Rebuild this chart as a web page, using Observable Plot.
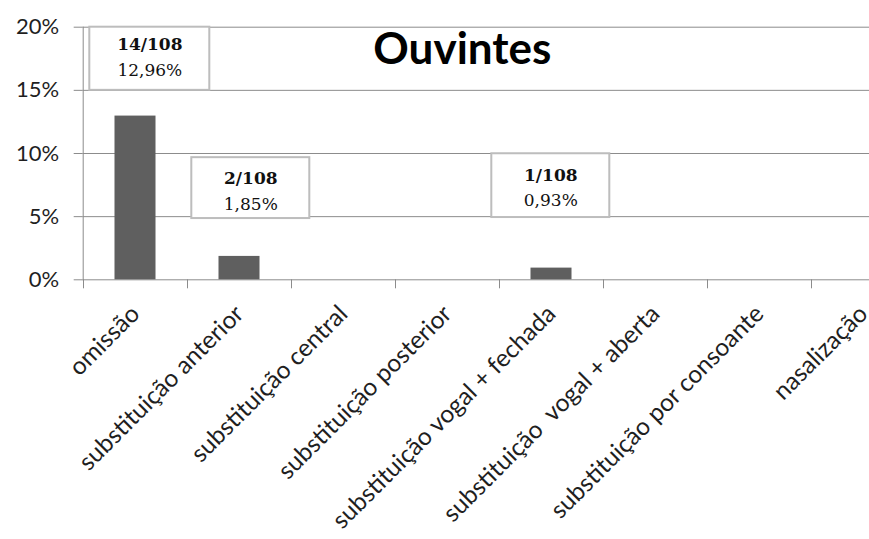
<!DOCTYPE html>
<html>
<head>
<meta charset="utf-8">
<script src="https://cdn.jsdelivr.net/npm/d3@7"></script>
<script src="https://cdn.jsdelivr.net/npm/@observablehq/plot@0.6"></script>
<style>
  body { margin: 0; background: #fff; }
  svg { display: block; }
  svg text { white-space: pre; }
</style>
</head>
<body>
<div id="chart"></div>
<script>
// Vowel error types among hearing participants (Ouvintes)
const categories = [
  "omissão",
  "substituição anterior",
  "substituição central",
  "substituição posterior",
  "substituição vogal + fechada",
  "substituição  vogal + aberta",
  "substituição por consoante",
  "nasalização"
];
const counts = [14, 2, 0, 0, 1, 0, 0, 0];
const total = 108;
const yTicks = [0, 5, 10, 15, 20];
const title = "Ouvintes";

const percent = counts.map(c => c / total * 100);
const rows = categories.map((category, i) => ({category, count: counts[i], value: percent[i]}));
const fmtPct = v => v.toFixed(2).replace(".", ",") + "%";

// Callout boxes: which category they describe, vertical extent (in %),
// horizontal shift from the band centre and box width (px), text offset (px)
const calloutLayout = [
  {index: 0, top: 20, bottom: 15, shift: 14.3, width: 120, textDy: -14},
  {index: 1, top: 9.67, bottom: 4.85, shift: 11.3, width: 118, textDy: -9.5},
  {index: 4, top: 9.98, bottom: 4.93, shift: -0.7, width: 118, textDy: -10.5}
];

const left = 82.7, band = 104;
const yTop = 26.7, yBottom = 279.3, H = 539, W = 869;
const grey = "#8c8c8c";
const ink = "#1f1f1f";

const calloutMarks = calloutLayout.flatMap(c => {
  const r = rows[c.index];
  const box = {category: r.category, top: c.top, bottom: c.bottom, mid: (c.top + c.bottom) / 2};
  return [
    Plot.rect([box], {
      x: "category", y1: "bottom", y2: "top",
      insetLeft: band / 2 + c.shift - c.width / 2,
      insetRight: band / 2 - c.shift - c.width / 2,
      fill: "#fff", stroke: "#bdbdbd", strokeWidth: 2
    }),
    Plot.text([box], {
      x: "category", y: "mid", dx: c.shift, dy: c.textDy,
      text: () => `${r.count}/${total}`,
      fontFamily: "DejaVu Serif", fontSize: 17, fontWeight: "bold", fill: "#111"
    }),
    Plot.text([box], {
      x: "category", y: "mid", dx: c.shift, dy: c.textDy + 25.5,
      text: () => fmtPct(r.value),
      fontFamily: "DejaVu Serif", fontSize: 17, fill: "#111"
    })
  ];
});

const chart = Plot.plot({
  width: W,
  height: H,
  marginLeft: left,
  marginRight: 0,
  marginTop: yTop,
  marginBottom: H - yBottom,
  style: {fontFamily: "Lato, 'Open Sans', sans-serif", background: "#fff", color: ink},
  x: {domain: categories, range: [left, left + band * categories.length], padding: 0, label: null},
  y: {domain: [0, 20], range: [yBottom, yTop], label: null},
  marks: [
    Plot.gridY(yTicks.filter(v => v > 0), {stroke: grey, strokeOpacity: 1}),
    Plot.ruleY([0], {stroke: grey}),
    Plot.frame({anchor: "left", stroke: grey}),
    Plot.axisY(yTicks, {
      tickSize: 9, tickPadding: 15, tickFormat: d => d + "%",
      fontSize: 22, stroke: grey, fill: ink, label: null
    }),
    // category ticks sit on the band boundaries
    Plot.axisX({tickSize: 9, tickFormat: () => "", dx: -band / 2, stroke: grey, label: null}),
    Plot.axisX({
      tickSize: 0, tickPadding: 30, tickRotate: -45,
      fontSize: 24.5, fill: ink, label: null
    }),
    Plot.barY(rows, {
      x: "category", y: "value",
      insetLeft: 31.5, insetRight: 31.5,
      fill: "#5f5f5f"
    }),
    ...calloutMarks,
    Plot.text([title], {
      frameAnchor: "top", dx: -14, dy: 23, lineAnchor: "middle",
      fontSize: 44, fontWeight: "bold", fill: "#000"
    })
  ]
});

document.getElementById("chart").appendChild(chart);
</script>
</body>
</html>
